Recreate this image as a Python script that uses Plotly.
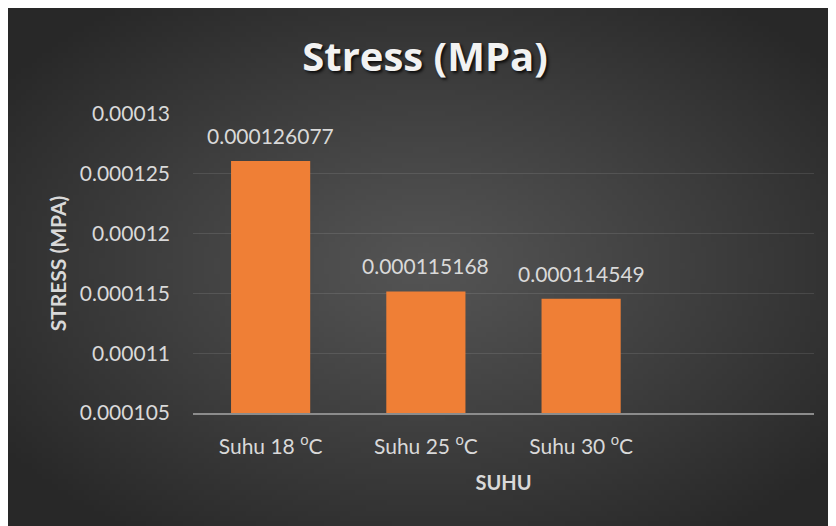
import base64, struct, zlib
import plotly.graph_objects as go

# ---- data ----
categories = ["Suhu 18 <sup>o</sup>C", "Suhu 25 <sup>o</sup>C", "Suhu 30 <sup>o</sup>C"]
stress_values = [0.000126077, 0.000115168, 0.000114549]
value_labels = ["0.000126077", "0.000115168", "0.000114549"]
y_ticks = [0.000105, 0.00011, 0.000115, 0.00012, 0.000125, 0.00013]
y_tick_labels = ["0.000105", "0.00011", "0.000115", "0.00012", "0.000125", "0.00013"]
n_slots = 4  # category slots on the axis (the fourth is empty)

# ---- figure geometry (px) ----
W, H = 836, 526
ML, MR, MT, MB = 185, 30, 106, 121

# ---- radial gradient background as png ----
def make_png(w, h, c_in, c_out, cxf=0.5, cyf=0.49):
    rows = []
    cx, cy = w * cxf, h * cyf
    for j in range(h):
        row = bytearray([0])
        for i in range(w):
            dx = (i + 0.5 - cx) / (w * 0.62)
            dy = (j + 0.5 - cy) / (h * 0.62)
            d = min(1.0, (dx * dx + dy * dy) ** 0.5)
            t = d ** 1.1
            for k in range(3):
                row.append(int(round(c_in[k] + (c_out[k] - c_in[k]) * t)))
        rows.append(bytes(row))
    raw = b"".join(rows)

    def chunk(tag, data):
        c = struct.pack(">I", len(data)) + tag + data
        return c + struct.pack(">I", zlib.crc32(tag + data) & 0xFFFFFFFF)

    png = b"\x89PNG\r\n\x1a\n"
    png += chunk(b"IHDR", struct.pack(">IIBBBBB", w, h, 8, 2, 0, 0, 0))
    png += chunk(b"IDAT", zlib.compress(raw, 9))
    png += chunk(b"IEND", b"")
    return "data:image/png;base64," + base64.b64encode(png).decode()

bg_src = make_png(160, 100, (84, 84, 84), (40, 40, 40))

pw = W - ML - MR
ph = H - MT - MB
img_x = -ML / pw
img_y = (H - MB) / ph
img_sx = W / pw
img_sy = H / ph

font_family = "Lato, 'Open Sans', sans-serif"
title_family = "'Open Sans', Lato, sans-serif"
txt_color = "#d9d9d9"

x_pos = list(range(len(stress_values)))

fig = go.Figure()
fig.add_trace(go.Bar(
    x=x_pos,
    y=stress_values,
    width=0.51,
    marker=dict(color="#ef7f36", line=dict(width=0)),
    hoverinfo="x+y",
))

annotations = [
    dict(x=xv, y=yv, xref="x", yref="y", text=lab, showarrow=False,
         yanchor="bottom", xanchor="center", yshift=11,
         font=dict(family=font_family, size=21, color=txt_color))
    for xv, yv, lab in zip(x_pos, stress_values, value_labels)
]

fig.update_layout(
    width=W, height=H,
    margin=dict(l=ML, r=MR, t=MT, b=MB, autoexpand=False),
    paper_bgcolor="#333333",
    plot_bgcolor="rgba(0,0,0,0)",
    showlegend=False,
    annotations=annotations,
    title=dict(
        text="<b>Stress (MPa)</b>",
        x=417 / W, xanchor="center", xref="container",
        y=1 - 49 / H, yanchor="middle", yref="container",
        font=dict(family=title_family, size=40, color="#f2f2f2",
                  shadow="2px 2px 3px rgba(0,0,0,0.8)"),
    ),
    images=[dict(
        source=bg_src, xref="paper", yref="paper",
        x=img_x, y=img_y, sizex=img_sx, sizey=img_sy,
        xanchor="left", yanchor="top", sizing="stretch", layer="below",
    )],
    xaxis=dict(
        range=[-0.5, n_slots - 0.5],
        tickvals=x_pos,
        ticktext=categories,
        showgrid=False,
        zeroline=False,
        showline=True, linecolor="#8c8c8c", linewidth=2,
        ticks="", ticklabelstandoff=14,
        tickfont=dict(family=font_family, size=21, color=txt_color),
        title=dict(text="<b>SUHU</b>", standoff=19,
                   font=dict(family=font_family, size=20, color=txt_color)),
    ),
    yaxis=dict(
        range=[y_ticks[0], y_ticks[-1]],
        tickvals=y_ticks,
        ticktext=y_tick_labels,
        showgrid=True, gridcolor="rgba(255,255,255,0.10)", gridwidth=1,
        zeroline=False, showline=False,
        ticks="", ticklabelstandoff=22,
        tickfont=dict(family=font_family, size=21, color=txt_color),
        title=dict(text="<b>STRESS (MPA)</b>", standoff=7,
                   font=dict(family=font_family, size=21, color=txt_color)),
    ),
)

fig.write_html("out.html")
